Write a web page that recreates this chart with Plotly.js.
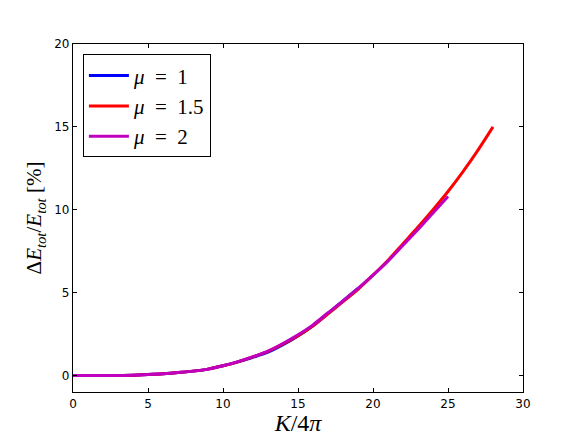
<!DOCTYPE html>
<html>
<head>
<meta charset="utf-8">
<script src="https://cdn.plot.ly/plotly-3.0.1.min.js"></script>
<style>body{margin:0;background:#fff}</style>
</head>
<body>
<div id="chart" style="width:581px;height:436px"></div>
<script>
// K/4pi values and energy change (%) for each mu
let kRed = [0,1,2,3,4,5,6,7,8,9,10,11,12,13,14,15,16,17,18,19,20,21,22,23,24,25,26,27,28];
let eRed = [0,0,0,0,0.01,0.05,0.1,0.17,0.26,0.38,0.58,0.82,1.12,1.45,1.9,2.4,3.0,3.72,4.45,5.2,6.05,6.95,7.95,8.95,10.0,11.1,12.3,13.6,15.0];

let kBlue = [0,1,2,3,4,5,6,7,8,9,10,11,12,13,14,15,16,17,18,19];
let eBlue = [0,0,0,0,0.01,0.05,0.1,0.17,0.26,0.38,0.58,0.82,1.1,1.4,1.85,2.38,3.0,3.75,4.5,5.25];

let kMag = [0,1,2,3,4,5,6,7,8,9,10,11,12,13,14,15,16,17,18,19,20,21,22,23,24,25];
let eMag = [0,0,0,0,0.01,0.05,0.1,0.17,0.26,0.38,0.58,0.83,1.13,1.47,1.93,2.45,3.05,3.78,4.5,5.25,6.05,6.9,7.85,8.8,9.8,10.8];

let names = ['<i>μ</i>\u2002=\u20021', '<i>μ</i>\u2002=\u20021.5', '<i>μ</i>\u2002=\u20022'];
let colors = ['#0000ff', '#ff0000', '#bf00bf'];

let traces = [
    {x: kBlue, y: eBlue, mode: 'lines', name: names[0], line: {color: colors[0], width: 3, shape: 'spline', smoothing: 0.8}},
    {x: kRed, y: eRed, mode: 'lines', name: names[1], line: {color: colors[1], width: 3, shape: 'spline', smoothing: 0.8}},
    {x: kMag, y: eMag, mode: 'lines', name: names[2], line: {color: colors[2], width: 3, shape: 'spline', smoothing: 0.8}}
];

let axisStyle = {
    showgrid: false, zeroline: false, showline: true, mirror: 'ticks',
    linecolor: '#000', linewidth: 1.2, ticks: 'inside', ticklen: 4,
    tickcolor: '#000', tickfont: {family: 'DejaVu Sans', size: 12, color: '#000'}
};

let layout = {
    width: 581, height: 436,
    margin: {l: 73, r: 58, t: 44, b: 44},
    paper_bgcolor: '#fff', plot_bgcolor: '#fff',
    showlegend: true,
    legend: {
        x: 0.022, y: 0.97, xanchor: 'left', yanchor: 'top',
        bordercolor: '#000', borderwidth: 1, bgcolor: '#fff',
        font: {family: 'Liberation Serif', size: 21, color: '#000'},
        itemwidth: 40, tracegroupgap: 0
    },
    xaxis: Object.assign({}, axisStyle, {
        range: [0, 30], dtick: 5,
        title: {text: '<i>K</i>/4<i>π</i>', font: {family: 'Liberation Serif', size: 24, color: '#000'}, standoff: 4}
    }),
    yaxis: Object.assign({}, axisStyle, {
        range: [-1, 20], tickvals: [0, 5, 10, 15, 20],
        title: {text: 'Δ<i>E<sub>tot</sub></i>/<i>E<sub>tot</sub></i> [%]', font: {family: 'Liberation Serif', size: 21, color: '#000'}, standoff: 6}
    })
};

Plotly.newPlot('chart', traces, layout, {displayModeBar: false});
</script>
</body>
</html>
